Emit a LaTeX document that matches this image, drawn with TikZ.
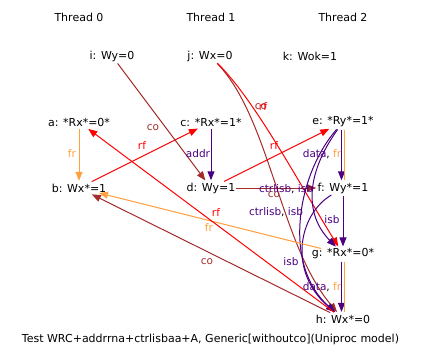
\documentclass[tikz,border=0pt]{standalone}
\usepackage{fontspec}
\setmainfont{DejaVu Sans}
\usetikzlibrary{arrows.meta,shapes.geometric}
\definecolor{cpurple}{RGB}{75,0,130}
\definecolor{cbrown}{RGB}{165,42,42}
\definecolor{corange}{RGB}{255,160,64}
\definecolor{cred}{RGB}{255,0,0}
\begin{document}
\begin{tikzpicture}[x=1pt,y=-1pt,
  ev/.style={ellipse,minimum height=14pt,minimum width=#1,inner sep=0pt,font=\fontsize{11}{13}\selectfont},
  ttl/.style={inner sep=0pt,font=\fontsize{11}{13}\selectfont},
  lab/.style={inner sep=0pt,font=\fontsize{10.5}{12}\selectfont},
  arr/.style={line width=1pt,-{Triangle[length=9pt,width=7pt]}},
  plain/.style={line width=1pt},
  ]
\useasboundingbox (0,0) rectangle (423,361);
% threads
\node[ttl] (t0) at (79,17) {Thread 0};
\node[ttl] (t1) at (211,17) {Thread 1};
\node[ttl] (t2) at (343,17) {Thread 2};
% events
\node[ev=45pt] (i) at (112,56) {\makebox[0pt]{i: Wy=0}};
\node[ev=45pt] (j) at (210,56) {\makebox[0pt]{j: Wx=0}};
\node[ev=53pt] (k) at (310,56) {\makebox[0pt]{k: Wok=1}};
\node[ev=64pt] (a) at (79,122) {\makebox[0pt]{a: *Rx*=0*}};
\node[ev=64pt] (c) at (211,122) {\makebox[0pt]{c: *Rx*=1*}};
\node[ev=64pt] (e) at (343,122) {\makebox[0pt]{e: *Ry*=1*}};
\node[ev=55pt] (b) at (79,188) {\makebox[0pt]{b: Wx*=1}};
\node[ev=49pt] (d) at (211,188) {\makebox[0pt]{d: Wy=1}};
\node[ev=53pt] (f) at (343,188) {\makebox[0pt]{f: Wy*=1}};
\node[ev=64pt] (g) at (343,254) {\makebox[0pt]{g: *Rx*=0*}};
\node[ev=55pt] (h) at (343,319) {\makebox[0pt]{h: Wx*=0}};
\node[ttl] (cap) at (210.5,339) {Test WRC+addrrna+ctrlisbaa+A, Generic[withoutco](Uniproc model)};
% edges
\draw[arr,corange] (a) -- (b);
\draw[arr,cred] (b) -- (c);
\draw[arr,cpurple] (c) -- (d);
\draw[arr,cbrown] (i) -- (d);
\draw[arr,cbrown] (j) .. controls (270,118) and (280,245) .. (h);
\draw[arr,cred] (j) .. controls (255,100) and (300,185) .. (g);
\draw[arr,cred] (d) -- (e);
\draw[arr,cbrown] (d) -- (f);
\draw[arr,cpurple] ([xshift=-1.5pt]e.south) -- ([xshift=-1.5pt]f.north);
\draw[plain,corange] ([xshift=1.5pt]e.south) -- ([xshift=1.5pt]f.north);
\draw[arr,cpurple] (e) .. controls (305,175) and (305,215) .. (g);
\draw[arr,cpurple] (e) .. controls (297,175) and (282,265) .. (h);
\draw[arr,cpurple] (f) -- (g);
\draw[arr,cpurple] (f) .. controls (298,215) and (288,272) .. (h);
\draw[arr,cpurple] ([xshift=-1.5pt]g.south) -- ([xshift=-1.5pt]h.north);
\draw[plain,corange] ([xshift=1.5pt]g.south) -- ([xshift=1.5pt]h.north);
\draw[arr,corange] (g) -- (b);
\draw[arr,cbrown] (h) -- (b);
\draw[arr,cred] (h) -- (a);
% labels
\node[lab,text=corange] (lab) at (72,154) {fr};
\node[lab,text=cred] (lbc) at (142,146) {rf};
\node[lab,text=cpurple] (lcd) at (198,154) {addr};
\node[lab,text=cbrown] (lid) at (153,128) {co};
\node[lab,text=cbrown] (ljh) at (261,107) {co};
\node[lab,text=cred] (ljg) at (263,107) {rf};
\node[lab,text=cred] (lde) at (274,146) {rf};
\node[lab,text=cbrown] (ldf) at (274,195) {co};
\node[lab] (lef) at (322,154) {\textcolor{cpurple}{data}, \textcolor{corange}{fr}};
\node[lab] (leg) at (286,189) {\textcolor{cpurple}{ctrlisb}, \textcolor{cpurple}{isb}};
\node[lab] (leh) at (276,212) {\textcolor{cpurple}{ctrlisb}, \textcolor{cpurple}{isb}};
\node[lab,text=cpurple] (lfg) at (332,220) {isb};
\node[lab,text=cpurple] (lfh) at (291,262) {isb};
\node[lab] (lgh) at (322,287) {\textcolor{cpurple}{data}, \textcolor{corange}{fr}};
\node[lab,text=corange] (lgb) at (209,228) {fr};
\node[lab,text=cbrown] (lhb) at (207,262) {co};
\node[lab,text=cred] (lha) at (216,213) {rf};
\end{tikzpicture}
\end{document}
